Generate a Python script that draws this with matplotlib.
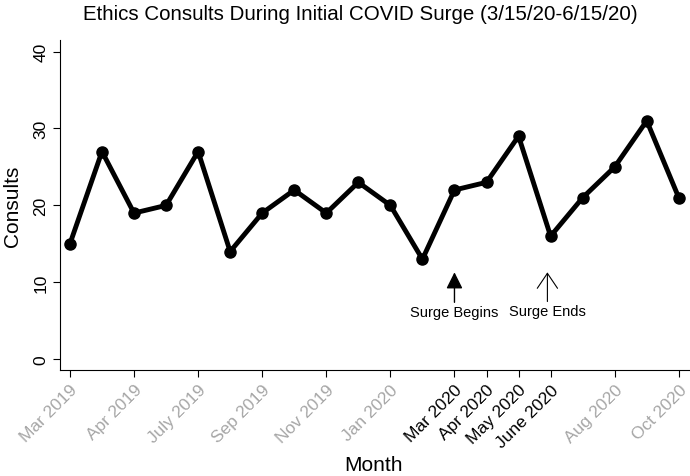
import numpy as np
import matplotlib.pyplot as plt

plt.rcParams['font.family'] = ['Liberation Sans', 'DejaVu Sans']

consults = [15, 27, 19, 20, 27, 14, 19, 22, 19, 23, 20, 13, 22, 23, 29, 16, 21, 25, 31, 21]
tick_idx = [0, 2, 4, 6, 8, 10, 12, 13, 14, 15, 17, 19]
tick_labels = ["Mar 2019", "Apr 2019", "July 2019", "Sep 2019", "Nov 2019", "Jan 2020",
               "Mar 2020", "Apr 2020", "May 2020", "June 2020", "Aug 2020", "Oct 2020"]
surge_labels = ["Mar 2020", "Apr 2020", "May 2020", "June 2020"]

fig = plt.figure(figsize=(6.9, 4.77), dpi=100)
ax = fig.add_axes([60 / 690, 1 - 371 / 477, 630 / 690, 330 / 477])

x = np.arange(len(consults))
ax.plot(x, consults, color='black', lw=3.5, marker='o', ms=8)

ax.set_xlim(-0.31, 19.35)
ax.set_ylim(-1.4, 41.5)
ax.set_yticks([0, 10, 20, 30, 40])
ax.tick_params(axis='y', labelrotation=90, labelsize=12.5, length=5)
for lab in ax.get_yticklabels():
    lab.set_va('center')
ax.set_xticks(tick_idx)
ax.set_xticklabels(tick_labels, rotation=45, ha='right', rotation_mode='anchor', fontsize=12.5)
ax.tick_params(axis='x', length=5)
for lab in ax.get_xticklabels():
    lab.set_color('black' if lab.get_text() in surge_labels else '#a6a6a6')

ax.spines['top'].set_visible(False)
ax.spines['right'].set_visible(False)

ax.set_ylabel("Consults", fontsize=15, labelpad=8)
fig.text(373 / 690, 1 - 466 / 477, "Month", ha='center', va='center', fontsize=15)
fig.text(360 / 690, 1 - 15 / 477, "Ethics Consults During Initial COVID Surge (3/15/20-6/15/20)",
         ha='center', va='center', fontsize=14.8)

# surge markers
ax.annotate("", xy=(12, 11.3), xytext=(12, 7.4),
            arrowprops=dict(arrowstyle='-|>', color='black', lw=1, mutation_scale=25, shrinkA=0, shrinkB=0))
ax.text(12, 6.1, "Surge Begins", ha='center', va='center', fontsize=10.5)
ax.annotate("", xy=(14.9, 11.3), xytext=(14.9, 7.5),
            arrowprops=dict(arrowstyle='->, head_length=0.4, head_width=0.27', color='black', lw=0.8,
                            mutation_scale=27, shrinkA=0, shrinkB=0))
ax.text(14.9, 6.3, "Surge Ends", ha='center', va='center', fontsize=10.5)

fig.savefig("out.png", dpi=100)
